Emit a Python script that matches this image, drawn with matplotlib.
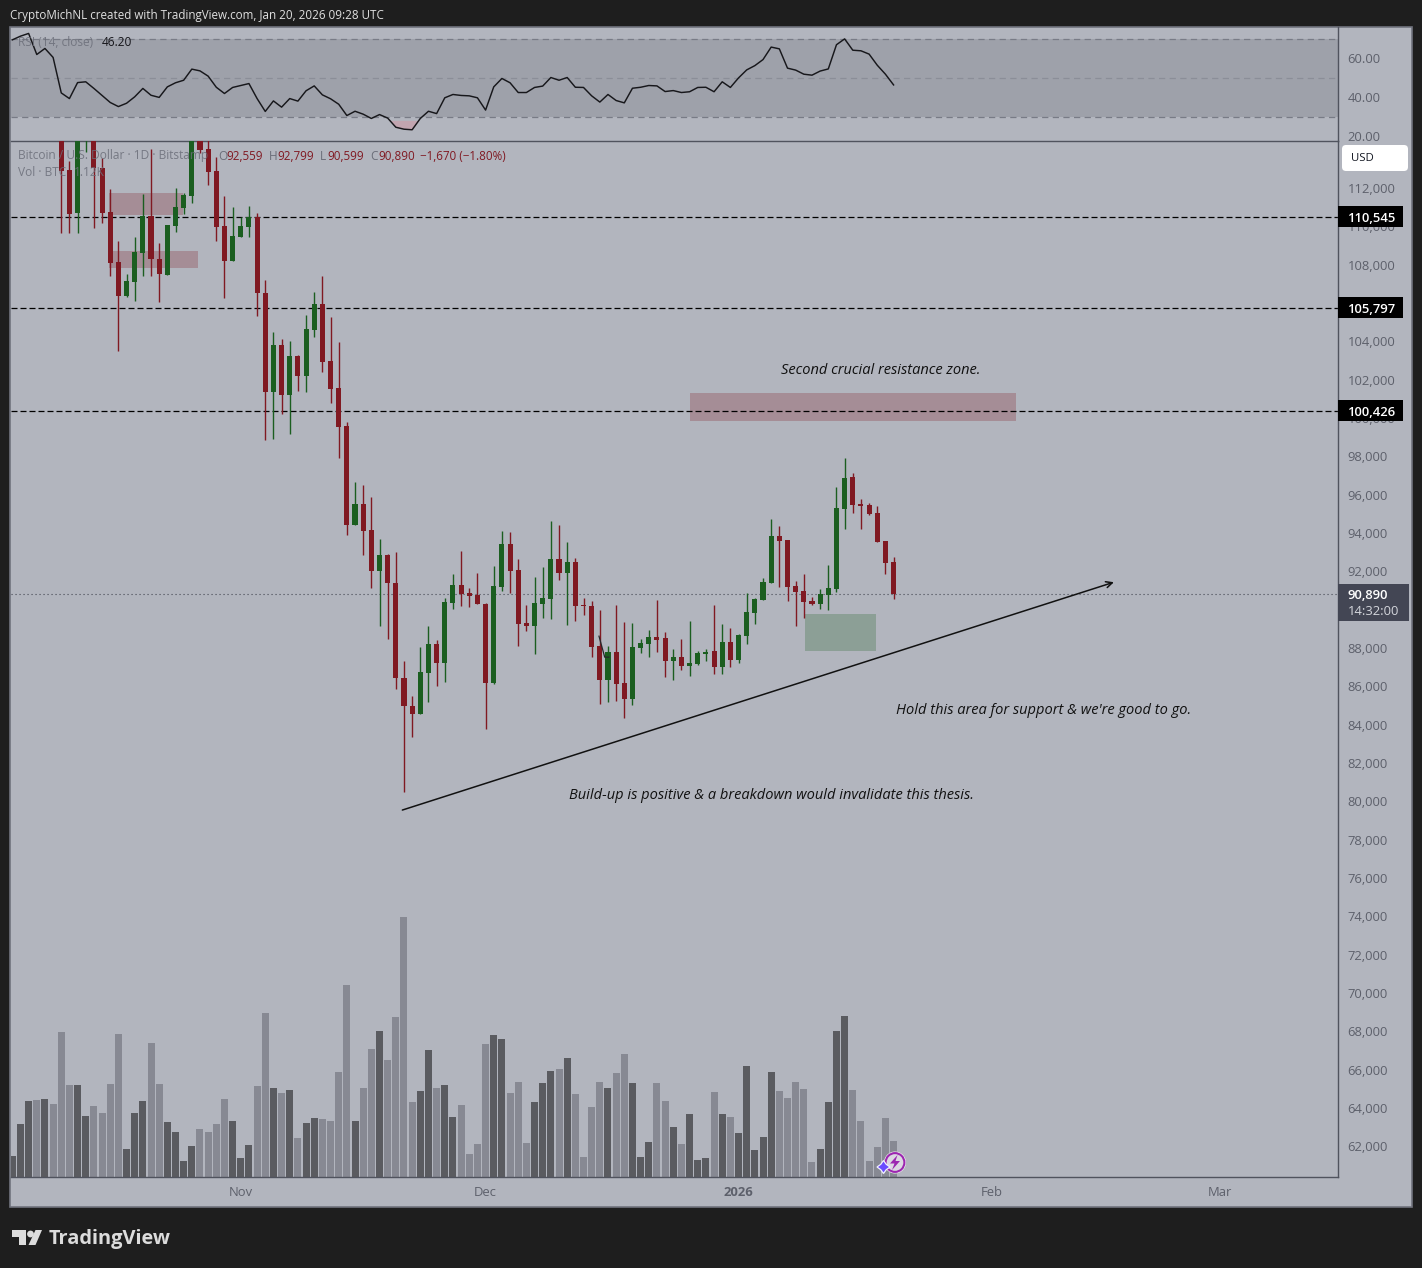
import numpy as np
import matplotlib
matplotlib.use('Agg')
import matplotlib.pyplot as plt
from matplotlib.patches import Rectangle, Polygon, Circle, FancyBboxPatch
from matplotlib.ticker import FuncFormatter
from matplotlib.transforms import Bbox, TransformedBbox, ScaledTranslation

plt.rcParams['font.family'] = ['Open Sans', 'DejaVu Sans']

# -----------------------------------
# Data (daily candles from 2025-10-04, first six sit above the pane)

opens = [122200, 122400, 123500, 124900, 121400, 123300,
         121700, 112964, 110722, 114800, 115200, 113068, 110774, 108167, 106395, 107125,
         108637, 110566, 108324, 107489, 110044, 110983, 111609, 115000, 114059, 112912,
         110044, 108219, 109471, 109992, 110514, 106551, 101405, 103840, 101233, 103271,
         102223, 104622, 105977, 103005, 101598, 99616, 94454, 95549, 94194, 92056,
         92890, 91430, 86477, 85017, 84600, 86738, 88250, 87259, 90388, 91326,
         90909, 90805, 90335, 86216, 91222, 93464, 92108, 89345, 89188, 90335,
         90596, 92682, 91952, 92525, 90283, 90231, 88146, 86373, 87833, 86216,
         85382, 88041, 88250, 88615, 88563, 87363, 87572, 87103, 87207, 87728,
         87885, 87051, 88354, 87416, 88667, 89866, 90544, 91430, 93881, 93672,
         91274, 91013, 90492, 90335, 90805, 91118, 95289, 96957, 95549, 95497, 95080, 93620, 92559]

highs = [122900, 125500, 126200, 125100, 124100, 123700,
         122500, 113433, 115500, 116000, 115800, 113590, 111974, 109262, 107542, 109471,
         111713, 114059, 109158, 110096, 112026, 111765, 115600, 115600, 114900, 113642,
         111609, 111035, 110514, 111087, 110722, 107229, 104518, 104153, 104048, 103329,
         105404, 106603, 107437, 105300, 103996, 99825, 96697, 96540, 95914, 93725,
         92942, 93047, 87363, 85539, 88093, 89188, 88458, 90648, 91900, 93099,
         91170, 91952, 90388, 92317, 94142, 94090, 92682, 90283, 91743, 92265,
         94663, 94454, 93568, 92734, 90648, 90492, 90023, 88146, 90283, 89397,
         89345, 88511, 88980, 90544, 88876, 87989, 88511, 89449, 87885, 87989,
         90283, 89293, 89084, 88771, 90909, 90648, 91691, 94767, 94402, 93672,
         91535, 91900, 90700, 91118, 92369, 96436, 97948, 97166, 95810, 95602, 95445, 93620, 92799]

lows = [121600, 122100, 123100, 120600, 121000, 119500,
        109679, 109679, 109679, 113903, 109940, 110201, 107437, 103527, 106342, 106134,
        107437, 107437, 106082, 107489, 109732, 110670, 111244, 113851, 112182, 109262,
        106290, 108219, 109471, 109471, 105352, 98902, 98954, 100263, 99199, 101441,
        101389, 104278, 102432, 100816, 97948, 93933, 94454, 92890, 91170, 89188,
        88511, 85904, 80533, 83401, 84600, 85226, 86060, 86269, 90075, 90231,
        90179, 90335, 83818, 86164, 91013, 90909, 88146, 88928, 87728, 89605,
        89553, 91587, 89240, 89449, 89762, 87572, 85121, 85226, 85278, 84391,
        85069, 87781, 87572, 87833, 86529, 86373, 86894, 86581, 87155, 87363,
        86686, 86686, 87051, 87259, 88250, 89293, 90544, 91430, 91222, 90492,
        89188, 89605, 90283, 90075, 90023, 90961, 94246, 95080, 94246, 94976, 93568, 91900, 90599]

closes = [122400, 123500, 124900, 121400, 123300, 121700,
          112912, 110670, 115000, 115400, 113068, 110722, 108115, 106395, 107177, 108689,
          110566, 108324, 107542, 110096, 111035, 111661, 115000, 114007, 112860, 109992,
          108219, 109523, 110044, 110514, 106551, 101405, 103840, 101233, 103271, 102223,
          104674, 105977, 102953, 101546, 99564, 94454, 95549, 94142, 92056, 92890,
          91430, 86477, 85017, 84600, 86790, 88250, 87259, 90440, 91326, 90857,
          90753, 90335, 86216, 91274, 93464, 92056, 89293, 89188, 90388, 90648,
          92682, 91952, 92525, 90231, 90231, 88093, 86373, 87833, 86164, 85382,
          88093, 88302, 88615, 88458, 87363, 87572, 87103, 87259, 87781, 87833,
          87051, 88354, 87416, 88719, 89918, 90596, 91483, 93881, 93620, 91222,
          90961, 90440, 90335, 90857, 91170, 95341, 96905, 95497, 95445, 95028, 93568, 92473, 90890]

volumes = [650, 1675, 2410, 2445, 2475, 2315, 4620, 2925, 2925, 1930, 2250, 2025, 2955, 4555, 875,
           2025, 2410, 4270, 2955, 1740, 1420, 490, 970, 1515, 1420, 1675, 2475, 1770, 585, 1005,
           2890, 5230, 2830, 2670, 2765, 1225, 1705, 1865, 1835, 1770, 3340, 6125, 1770, 2830, 4075,
           4650, 3725, 5100, 8300, 2380, 2730, 4045, 2830, 2925, 1900, 2285, 715, 1035, 4235, 4525,
           4395, 2670, 3020, 1065, 2380, 2985, 3370, 3435, 3790, 2635, 620, 2220, 3020, 2830, 3310,
           3915, 2985, 620, 1100, 2985, 2410, 1580, 1035, 1995, 525, 585, 2700, 1995, 1900, 1385,
           3530, 845, 1260, 3340, 2730, 2505, 3020, 2795, 460, 875, 2380, 4650, 5130, 2765, 1770,
           490, 940, 1865, 1120]

rsi_values = [69.3, 71.2, 72.6, 61.8, 64.9, 60.3, 42.1, 39.2, 47.4, 47.8, 44.4, 40.8, 37.2, 35.1, 36.8,
              40.1, 44.4, 40.9, 39.8, 45.2, 47.3, 48.6, 54.3, 53.4, 50.7, 45.0, 41.8, 44.9, 45.9, 46.9,
              39.2, 32.6, 38.0, 34.8, 39.2, 37.9, 43.2, 45.7, 41.1, 39.1, 36.3, 30.5, 32.7, 31.2, 29.0,
              31.0, 29.2, 24.5, 23.5, 23.2, 29.0, 32.7, 31.5, 39.6, 41.3,
              40.8, 40.6, 39.6, 33.3, 45.2, 49.5, 47.3, 42.3, 42.3, 44.9, 45.6, 50.0, 48.6, 50.0, 45.0,
              44.9, 40.6, 37.4, 41.3, 38.2, 37.0, 44.5, 45.0, 45.9, 45.7, 42.8, 43.3, 42.3, 42.7, 44.9,
              45.0, 42.7, 47.8, 44.9, 49.8, 53.9, 56.1, 59.2, 65.6, 64.7, 54.8, 53.8, 51.7, 51.2, 53.3,
              54.4, 66.8, 69.8, 64.0, 63.7, 62.0, 56.3, 51.7, 46.2]

price_ticks = list(range(62000, 114000, 2000))
rsi_ticks = [20, 40, 60]
month_days = [28, 58, 89, 120, 148]
month_labels = ['Nov', 'Dec', '2026', 'Feb', 'Mar']
level_prices = [110545, 105797, 100426]

# zones: first day, last day, low price, high price
red_zones = [(11.9, 20.9, 110618, 111765), (11.9, 22.8, 107855, 108741), (83.0, 123.0, 99877, 101337)]
green_zone = (97.1, 105.9, 87885, 89814)
trend_line = ((47.8, 79595), (135.0, 91483))
small_arrow_days = [71.9, 72.6, 73.1]
small_arrow_prices = [88666, 87572, 87572]

notes = [('Second crucial resistance zone.', 94.2, 102550),
         ('Hold this area for support & we\'re good to go.', 108.3, 84770),
         ('Build-up is positive & a breakdown would invalidate this thesis.', 68.2, 80340)]

# -----------------------------------
# Layout and colours

W, H = 1422, 1268
BG = '#1e1e1e'
PANEL = '#b2b5be'
BAND = '#9ea1aa'
RED = '#801922'
GREEN = '#1b5e20'
VOL_UP = '#5a5b60'
VOL_DOWN = '#878993'
AXIS_TXT = '#5d606b'
LINE = '#50535e'

X0, X1 = 10.5, 1338.0
RSI_TOP, PANE_TOP, PANE_BOT = 27.0, 140.5, 1176.5
DAY_PX = 8.16
FIRST_BAR_PX = 12.3
PRICE_TOP, PRICE_BOT = 114528, 60476
VOL_TOP = 33150


def pane(y_top, y_bot, **kwargs):
    """Axes from pixel rows, all on the same x span"""
    return fig.add_axes([X0 / W, 1 - y_bot / H, (X1 - X0) / W, (y_bot - y_top) / H], **kwargs)


fig = plt.figure(figsize=(W / 100, H / 100), dpi=100, facecolor=BG)
nudge_up = ScaledTranslation(0, 1 / 100, fig.dpi_scale_trans)

# whole chart panel behind everything
back = fig.add_axes([0, 0, 1, 1], zorder=0)
back.set_xlim(0, W)
back.set_ylim(H, 0)
back.axis('off')
back.add_patch(Rectangle((10, 27), 1402, 1180, fc=PANEL, ec='#70737e', lw=1.2))

xlim = ((X0 - FIRST_BAR_PX) / DAY_PX, (X1 - FIRST_BAR_PX) / DAY_PX)
days = np.arange(len(closes))
o = np.array(opens)
c = np.array(closes)
is_up = c >= o

# -----------------------------------
# Volume, drawn under the candles

ax_vol = pane(PANE_TOP, PANE_BOT, zorder=1)
ax_vol.set_xlim(*xlim)
ax_vol.set_ylim(0, VOL_TOP)
ax_vol.axis('off')
ax_vol.bar(days, volumes, width=0.86, linewidth=0,
           color=[VOL_UP if u else VOL_DOWN for u in is_up])

# -----------------------------------
# Price pane

ax = pane(PANE_TOP, PANE_BOT, zorder=2)
ax.patch.set_visible(False)
ax.set_xlim(*xlim)
ax.set_ylim(PRICE_BOT, PRICE_TOP)

for zone in red_zones:
    ax.add_patch(Rectangle((zone[0], zone[2]), zone[1] - zone[0], zone[3] - zone[2],
                           fc=RED, alpha=0.25, lw=0, zorder=1))
ax.add_patch(Rectangle((green_zone[0], green_zone[2]), green_zone[1] - green_zone[0],
                       green_zone[3] - green_zone[2], fc=GREEN, alpha=0.25, lw=0, zorder=1))

for level in level_prices:
    ax.axhline(level, color='black', lw=0.9, ls=(0, (4.8, 2.4)), zorder=1.5)
ax.axhline(closes[-1], color='#434651', lw=0.8, ls=(0, (1, 2.6)), zorder=1.5)

colors = [GREEN if u else RED for u in is_up]
ax.vlines(days, lows, highs, colors=colors, lw=1.0, zorder=3)
ax.bar(days, np.abs(c - o), bottom=np.minimum(o, c), width=0.62, color=colors, linewidth=0, zorder=3)

ax.annotate('', xy=trend_line[1], xytext=trend_line[0], zorder=4,
            arrowprops=dict(arrowstyle='->,head_length=0.45,head_width=0.22', color='#111111', lw=1.1,
                            shrinkA=0, shrinkB=0))
ax.plot(small_arrow_days, small_arrow_prices, color='#26262b', lw=0.9, zorder=4)

for note, day, price in notes:
    ax.text(day, price, note, style='italic', fontsize=10.5, color='#111111', va='center', ha='left', zorder=4)

ax.yaxis.tick_right()
ax.set_yticks(price_ticks)
ax.yaxis.set_major_formatter(FuncFormatter(lambda v, _: f'{v:,.0f}'))
ax.set_xticks(month_days)
ax.set_xticklabels(month_labels)
ax.get_xticklabels()[2].set_fontweight('bold')
ax.tick_params(axis='y', length=0, pad=7.0, labelsize=9.4, labelcolor=AXIS_TXT)
ax.tick_params(axis='x', length=0, pad=6.5, labelsize=9.4, labelcolor=AXIS_TXT)
for tick in ax.yaxis.get_major_ticks():
    tick.label2.set_transform(tick.label2.get_transform() + nudge_up)
for name, spine in ax.spines.items():
    spine.set_visible(name != 'left')
    spine.set_color(LINE)
    spine.set_linewidth(1.0)

# price tags on the axis, on top of the tick labels
px_price = (PRICE_TOP - PRICE_BOT) / (PANE_BOT - PANE_TOP)
px_frac = 1 / (X1 - X0)
y_trans = ax.get_yaxis_transform()
for level in level_prices:
    ax.add_patch(Rectangle((1, level - 10 * px_price), 65 * px_frac, 20.5 * px_price, fc='black', lw=0,
                           transform=y_trans, clip_on=False, zorder=6))
    ax.text(1 + 10 * px_frac, level, f'{level:,}', color='white', fontsize=9.4, fontweight='semibold',
            va='center_baseline', transform=y_trans, clip_on=False, zorder=7)

ax.add_patch(Rectangle((1, closes[-1] - 27 * px_price), 70.5 * px_frac, 37 * px_price, fc='#434654', lw=0,
                       transform=y_trans, clip_on=False, zorder=6))
ax.text(1 + 10 * px_frac, closes[-1], f'{closes[-1]:,}', color='white', fontsize=9.4, fontweight='semibold',
        va='center_baseline', transform=y_trans, clip_on=False, zorder=7)
ax.text(1 + 10 * px_frac, closes[-1] - 16.5 * px_price, '14:32:00', color='#d4d6dc', fontsize=9.4,
        va='center_baseline', transform=y_trans, clip_on=False, zorder=7)

# -----------------------------------
# RSI pane

ax_rsi = pane(RSI_TOP, PANE_TOP, zorder=3)
ax_rsi.patch.set_visible(False)
ax_rsi.set_xlim(*xlim)
ax_rsi.set_ylim(17.7, 75.9)
ax_rsi.axhspan(30, 70, fc=BAND, lw=0, zorder=1)
ax_rsi.axhline(70, color='#787b86', lw=0.9, ls=(0, (5, 3.5)), zorder=1.5)
ax_rsi.axhline(50, color='#8b8e98', lw=0.9, ls=(0, (5, 3.5)), zorder=1.5)
ax_rsi.axhline(30, color='#787b86', lw=0.9, ls=(0, (5, 3.5)), zorder=1.5)
rsi = np.array(rsi_values)
ax_rsi.fill_between(days, rsi, 28, where=rsi < 28, interpolate=True, color='#c2a5b0', lw=0, zorder=2)
ax_rsi.plot(days, rsi, color='#17171b', lw=1.05, zorder=3)
ax_rsi.set_xticks([])
ax_rsi.yaxis.tick_right()
ax_rsi.set_yticks(rsi_ticks)
ax_rsi.set_yticklabels([f'{v:.2f}' for v in rsi_ticks])
ax_rsi.tick_params(axis='y', length=0, pad=7.0, labelsize=9.4, labelcolor=AXIS_TXT)
for name, spine in ax_rsi.spines.items():
    spine.set_visible(name == 'right')
    spine.set_color(LINE)
    spine.set_linewidth(1.0)

# -----------------------------------
# Everything on top of the panes, placed in pixels

top = fig.add_axes([0, 0, 1, 1], zorder=5)
top.set_xlim(0, W)
top.set_ylim(H, 0)
top.axis('off')
top.patch.set_visible(False)

# the 20.00 label is cut by the pane line
clip = TransformedBbox(Bbox([[X1, RSI_TOP], [1412, PANE_TOP]]), top.transData)
for label in ax_rsi.get_yticklabels():
    label.set_clip_box(clip)
    label.set_clip_on(True)

top.text(10, 15, 'CryptoMichNL created with TradingView.com, Jan 20, 2026 09:28 UTC',
         color='#e0e0e0', fontsize=8.4, va='center', ha='left')

GREY = '#6b6e79'
top.text(18, 42, 'RSI (14, close)', color=GREY, alpha=0.85, fontsize=8.6, va='center')
top.text(101.5, 42, '46.20', color='#15151a', fontsize=8.6, va='center')
top.text(18, 156, 'Bitcoin / U.S. Dollar · 1D · Bitstamp', color=GREY, alpha=0.85, fontsize=8.6, va='center')
top.text(18, 173, 'Vol · BTC', color=GREY, alpha=0.85, fontsize=8.6, va='center')
top.text(74, 173, '1.12K', color=GREY, alpha=0.85, fontsize=8.6, va='center')
for x, label in [(218, 'O'), (269, 'H'), (320, 'L'), (370, 'C')]:
    top.text(x, 156, label, color=GREY, fontsize=8.6, va='center')
for x, value in [(226.5, '92,559'), (277.5, '92,799'), (327, '90,599'), (378, '90,890'),
                 (420.5, '−1,670 (−1.80%)')]:
    top.text(x, 156, value, color=RED, fontsize=8.4, va='center')

# USD button
top.add_patch(FancyBboxPatch((1345, 148), 60, 20, boxstyle='round,pad=3,rounding_size=4', fc='white', lw=0))
top.text(1351.5, 158.5, 'USD', color='#131722', fontsize=8.2, va='center')

# TradingView logo
logo = '#dcdcdc'
top.add_patch(Polygon([(12, 1230), (26, 1230), (26, 1245), (19, 1245), (19, 1237), (12, 1237)], fc=logo, lw=0))
top.add_patch(Circle((30.5, 1234), 3.4, fc=logo, lw=0))
top.add_patch(Polygon([(35.5, 1230), (42, 1230), (35.5, 1245), (28.5, 1245)], fc=logo, lw=0))
top.text(49, 1239, 'TradingView', color=logo, fontsize=14.4, fontweight='bold', va='center', ha='left')

# lightning badge on the volume pane
top.add_patch(Circle((895, 1162.5), 11, fc='#f2f0f4', lw=0))
top.add_patch(Circle((895, 1162.5), 9.4, fc='#dcd8e2', ec='#9c27b0', lw=1.5))
top.add_patch(Polygon([(897.5, 1155), (890, 1163.5), (894.5, 1163.5), (892, 1170), (900, 1161), (895.5, 1161)],
                      fc='#9c27b0', lw=0))
top.add_patch(Polygon([(883.5, 1160.5), (886.2, 1164.3), (890, 1167), (886.2, 1169.7), (883.5, 1173.5),
                       (880.8, 1169.7), (877, 1167), (880.8, 1164.3)], fc='#6a4cff', ec='#f2f0ff', lw=0.9))

fig.savefig('out.png', dpi=100, facecolor=BG)
